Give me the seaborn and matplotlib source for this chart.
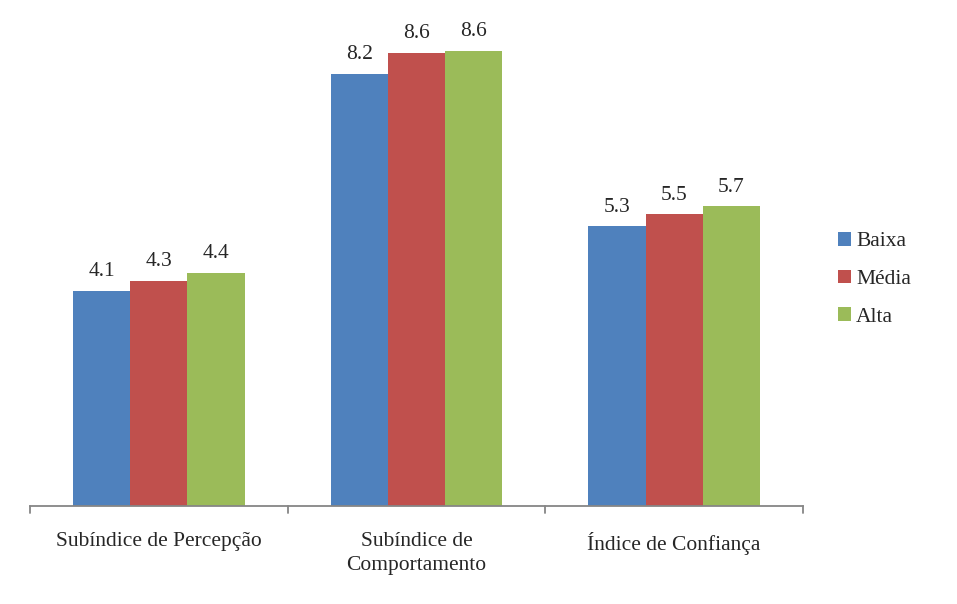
import pandas as pd
import numpy as np
import matplotlib.pyplot as plt
import seaborn as sns

# dados
categorias = ['Subíndice de Percepção', 'Subíndice de\nComportamento', 'Índice de Confiança']
grupos = ['Baixa', 'Média', 'Alta']
baixa = [4.08, 8.2, 5.31]
media = [4.27, 8.6, 5.54]
alta = [4.42, 8.64, 5.69]
cores = ['#4F81BD', '#C0504D', '#9BBB59']

df = pd.DataFrame({
    'categoria': categorias * 3,
    'grupo': [g for g in grupos for _ in categorias],
    'valor': baixa + media + alta,
})

sns.set_style('white')
plt.rcParams['font.family'] = ['Liberation Serif', 'DejaVu Serif']

fig = plt.figure(figsize=(9.57, 6.04), dpi=100)
ax = fig.add_axes([30 / 957, 98 / 604, 773 / 957, 474 / 604])

sns.barplot(data=df, x='categoria', y='valor', hue='grupo', order=categorias,
            hue_order=grupos, palette=cores, width=0.667, saturation=1,
            edgecolor='none', linewidth=0, ax=ax)

for cont in ax.containers:
    ax.bar_label(cont, fmt='%.1f', padding=7, fontsize=15.5)

ax.set_ylim(0, 9)
ax.set_xlim(-0.5, 2.5)
ax.set_xlabel('')
ax.set_ylabel('')
ax.set_yticks([])
for s in ['top', 'right', 'left']:
    ax.spines[s].set_visible(False)
ax.spines['bottom'].set_color('#868686')
ax.spines['bottom'].set_linewidth(1.3)

ax.set_xticks([0, 1, 2])
ax.set_xticklabels(categorias, fontsize=15.5, linespacing=1.3)
ax.tick_params(axis='x', length=0, pad=19)
for xb in [-0.5, 0.5, 1.5, 2.5]:
    ax.plot([xb, xb], [0, -0.13], color='#868686', lw=1.3, clip_on=False)

ax.legend(loc='center left', bbox_to_anchor=(1.02, 0.478), frameon=False,
          fontsize=15.5, handlelength=0.6, handleheight=0.6, handletextpad=0.25,
          labelspacing=0.85)

fig.savefig('out.png', dpi=100)
